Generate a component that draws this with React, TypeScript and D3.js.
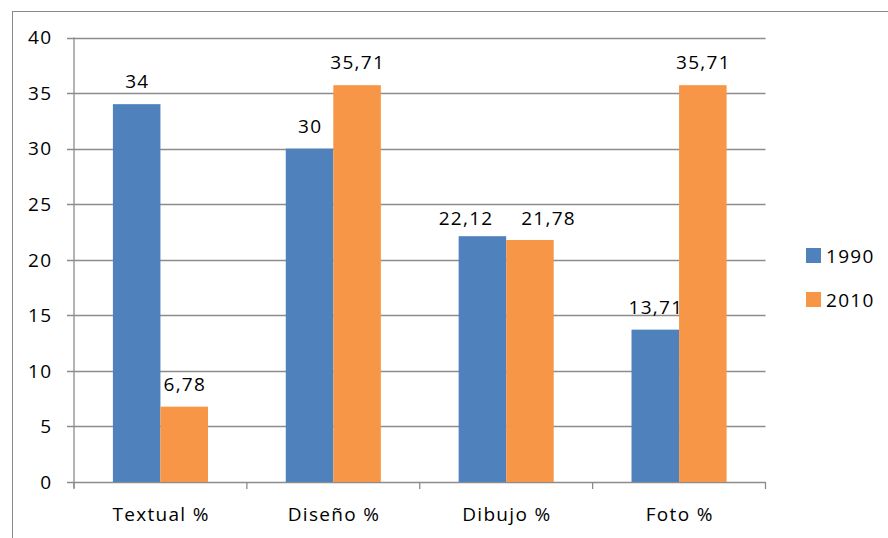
import React from "react";
import * as d3 from "d3";

const categories = ["Textual %", "Diseño %", "Dibujo %", "Foto %"];
const series = ["1990", "2010"];
const values1990 = [34, 30, 22.12, 13.71];
const values2010 = [6.78, 35.71, 21.78, 35.71];
const labels1990 = ["34", "30", "22,12", "13,71"];
const labels2010 = ["6,78", "35,71", "21,78", "35,71"];
const yTicks = [0, 5, 10, 15, 20, 25, 30, 35, 40];
const colors = ["#4F81BD", "#F79646"];

export default function App() {
  const W = 888, H = 538;
  const left = 74, right = 765.5, top = 37.5, bottom = 482;
  const font = "'Open Sans', 'Noto Sans', sans-serif";
  const fs = 19;
  const ls = 1.3;
  // label nudges (Excel de-overlaps the Dibujo labels)
  const nudgeX = [[0, 0, -17, 0], [0, 0, 18, 0]];
  const nudgeY = [[0, 0, 4.5, 0], [0, 0, 1.5, 0]];
  const x = d3.scaleBand<string>().domain(categories).range([left, right]).paddingInner(0.45).paddingOuter(0.225);
  const xs = d3.scaleBand<string>().domain(series).range([0, x.bandwidth()]);
  const y = d3.scaleLinear().domain([0, 40]).range([bottom, top]);
  const data = [values1990, values2010];
  const labels = [labels1990, labels2010];
  const step = (right - left) / categories.length;
  return (
    <svg width={W} height={H} style={{ position: "absolute", left: 0, top: 0 }}>
      <rect x={12.5} y={11.5} width={900} height={600} fill="white" stroke="#8a8a8a" strokeWidth={1} />
      {yTicks.map((t) => (
        <g key={t}>
          <line x1={left - 7} x2={right} y1={Math.round(y(t)) + 0.5} y2={Math.round(y(t)) + 0.5} stroke="#8c8c8c" strokeWidth={1.3} />
          <text x={51 + ls} y={y(t)} dy="0.36em" textAnchor="end" fontFamily={font} fontSize={fs} letterSpacing={ls} fill="#000">{t}</text>
        </g>
      ))}
      <line x1={left} x2={left} y1={top} y2={bottom + 6} stroke="#8c8c8c" strokeWidth={1.3} />
      {d3.range(categories.length + 1).map((i) => (
        <line key={i} x1={left + i * step} x2={left + i * step} y1={bottom} y2={bottom + 7} stroke="#8c8c8c" strokeWidth={1.3} />
      ))}
      {categories.map((c, ci) => (
        <g key={c}>
          {series.map((s, si) => {
            const v = data[si][ci];
            const bx = (x(c) as number) + (xs(s) as number);
            return (
              <g key={s}>
                <rect x={bx} y={y(v)} width={xs.bandwidth()} height={bottom - y(v)} fill={colors[si]} />
                <text x={bx + xs.bandwidth() / 2 + ls / 2 + nudgeX[si][ci]} y={y(v) - 16 + nudgeY[si][ci]} textAnchor="middle" fontFamily={font} fontSize={fs} letterSpacing={ls} fill="#000">{labels[si][ci]}</text>
              </g>
            );
          })}
          <text x={(x(c) as number) + x.bandwidth() / 2 + ls / 2} y={521} textAnchor="middle" fontFamily={font} fontSize={fs} letterSpacing={ls} fill="#000">{c}</text>
        </g>
      ))}
      {series.map((s, si) => (
        <g key={s}>
          <rect x={806} y={248 + si * 44} width={15} height={15} fill={colors[si]} />
          <text x={826} y={263 + si * 44} fontFamily={font} fontSize={fs} letterSpacing={ls} fill="#000">{s}</text>
        </g>
      ))}
    </svg>
  );
}
